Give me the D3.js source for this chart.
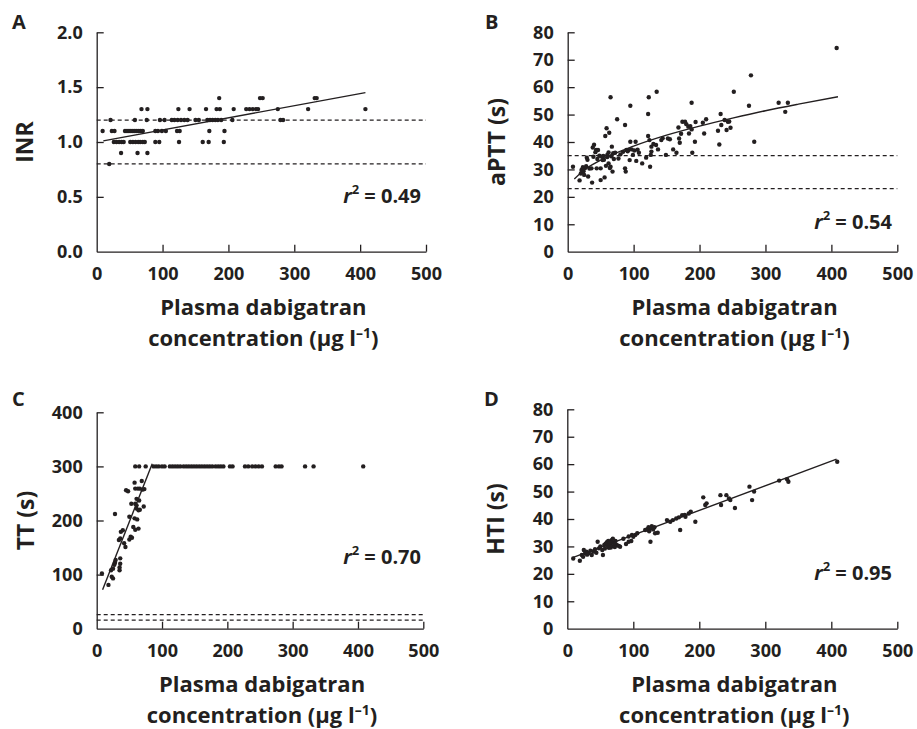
<!DOCTYPE html>
<html>
<head>
<meta charset="utf-8">
<script src="https://d3js.org/d3.v7.min.js"></script>
<style>
  body { margin: 0; background: #fff; }
  svg text { font-family: "Open Sans", Lato, sans-serif; font-weight: 700; fill: #231f20; }
</style>
</head>
<body>
<script>
// ---- data: [concentration (µg/l), value] ----
const inrPoints = [
  [186,1.4],[248,1.4],[252,1.4],[331,1.4],[334,1.4],
  [68,1.3],[77,1.3],[124,1.3],[141,1.3],[166,1.3],[182,1.3],[187,1.3],[208,1.3],[227,1.3],[232,1.3],[237,1.3],[242,1.3],[245,1.3],[275,1.3],[321,1.3],[408,1.3],
  [21,1.2],[58,1.2],[76,1.2],[96,1.2],[103,1.2],[114,1.2],[118,1.2],[123,1.2],[128,1.2],[133,1.2],[138,1.2],[150,1.2],[155,1.2],[168,1.2],[172,1.2],[176,1.2],[180,1.2],[184,1.2],[189,1.2],[206,1.2],[279,1.2],[283,1.2],
  [9,1.1],[23,1.1],[27,1.1],[43,1.1],[46,1.1],[49,1.1],[52,1.1],[55,1.1],[58,1.1],[61,1.1],[64,1.1],[67,1.1],[70,1.1],[89,1.1],[93,1.1],[99,1.1],[105,1.1],[122,1.1],[126,1.1],[171,1.1],[194,1.1],
  [26,1.0],[30,1.0],[34,1.0],[38,1.0],[41,1.0],[51,1.0],[55,1.0],[59,1.0],[63,1.0],[66,1.0],[70,1.0],[73,1.0],[89,1.0],[95,1.0],[125,1.0],[161,1.0],[170,1.0],[193,1.0],
  [37,0.9],[62,0.9],[77,0.9],
  [19,0.8]
];
const apttPoints = [
  [8,31],[18,26],[21,29.8],[23,30.8],[25,28],[26,30.4],[28,31.2],[29,34.3],[31,27.4],[36,30.4],[37,25.2],[38,38],[39,34.6],[40,39],
  [43,37.1],[44,30.4],[46,37.1],[50,30.4],[50,26.1],[53,33.4],[54,34.9],[56,27.1],[57,42.2],[59,45],[60,35.3],[62,32.2],[63,43.4],
  [65,56.3],[65,31],[67,38.3],[68,29.2],[69,35.9],[72,36.1],[75,48.3],[77,34],[87,46.2],[87,30.4],[88,29.2],[89,37.1],[92,37.1],
  [95,53.2],[95,40.1],[94,33.4],[97,37.3],[99,35.3],[103,40.1],[104,33.1],[113,32.2],[119,34.3],[122,50.2],[123,56.3],[122,42.2],
  [124,40.7],[125,31],[126,35.3],[127,38.3],[127,36.5],[135,58.3],[134,38.9],[137,37.3],[142,40.7],[149,35.3],[152,41.3],[160,37.3],
  [165,36.1],[168,45.3],[169,41.3],[170,39.7],[174,47.4],[178,47.4],[183,45.6],[184,43.1],[188,54.3],[188,44.6],[189,36.1],[193,40.1],
  [194,47.3],[205,47],[207,43.1],[210,48.3],[228,44.1],[230,39.1],[232,50.2],[233,46.2],[241,44.4],[243,47.4],[247,45.2],[252,58.3],
  [275,53.2],[278,64.3],[283,40.1],[320,54.3],[330,51],[334,54.3],[408,74.3],
  [20,28.5],[24,29.3],[30,33.5],[33,30.3],[42,36.3],[45,33.8],[48,35],[52,34.6],[55,33.5],[58,31.3],[60,34.5],[62,36.2],[64,30.5],
  [66,34.8],[70,33.8],[80,35.5],[84,36.4],[91,36.6],[101,36.9],[106,37.2],[108,36.1],[130,39.3],[144,41.4],[155,41],[172,43],
  [180,46.5],[186,45.8],[238,48],[245,47.5]
];
const ttPoints = [
  [59,300],[65,300],[75,300],[87,300],[91,300],[95,300],[100,300],[104,300],[112,300],[116,300],[120,300],[124,300],[128,300],
  [133,300],[137,300],[141,300],[145,300],[149,300],[153,300],[157,300],[161,300],[165,300],[169,300],[173,300],[177,300],
  [182,300],[186,300],[190,300],[194,300],[204,300],[208,300],[227,300],[232,300],[238,300],[243,300],[248,300],[253,300],
  [274,300],[279,300],[283,300],[319,300],[332,300],[408,300],
  [8,102],[18,81],[22,108],[23,96],[25,93],[25,111],[27,118],[28,122],[29,127],[28,212],[35,108],[35,113],[36,120],[36,130],
  [34,164],[36,167],[37,179],[40,182],[42,158],[44,151],[45,256],[48,254],[50,165],[50,207],[52,170],[53,231],[54,168],[56,188],
  [58,270],[59,183],[58,204],[59,231],[59,259],[61,228],[61,222],[61,240],[62,202],[63,259],[64,219],[64,185],[65,237],[66,220],
  [66,259],[69,273],[70,257],[72,226],[73,258]
];
const htiPoints = [
  [9,25.6],[19,24.8],[22,26.9],[25,28.7],[27,27.5],[29,28.1],[32,27.5],[37,26.9],[40,28.1],[44,27.7],[46,31.7],[48,29.3],[53,28.7],
  [54,26.9],[56,30.5],[58,31],[60,31.5],[62,32],[63,29.5],[65,30.8],[67,32.3],[68,31.5],[70,30.1],[72,29.8],[73,32],[75,30.5],
  [78,30.2],[80,29.9],[89,30.9],[93,31.7],[93,33.6],[97,32],[98,34.2],[103,34.2],[106,34.8],[121,36.2],[123,37],[126,36.6],
  [126,31.7],[128,37.4],[132,37],[133,34.8],[137,35],[151,39.6],[156,39],[160,39.6],[169,40.6],[171,36],[174,41.4],[179,40.8],
  [184,42],[187,42.7],[194,39],[206,47.9],[209,45.1],[211,45.7],[232,48.7],[233,45.1],[241,48.7],[245,47.5],[247,46.9],[254,44],
  [276,51.8],[280,46.9],[283,50],[321,54],[333,54.5],[335,53.6],[409,60.9],
  [24,26.2],[30,27],[35,28.4],[42,29],[50,30],[57,29.2],[61,30.2],[64,31.3],[66,29.6],[69,32.8],[71,31],[85,32.8],[100,33.5],
  [118,36],[124,35.5],[130,36.2],[165,40.2],[178,41.5]
];

// fitted lines as drawn in the figure
const inrFit  = [[10,1.01],[408,1.45]];
const apttFit = [[10,26.5],[25,29.8],[50,33.4],[100,38.5],[150,42.5],[200,45.8],[250,48.7],[300,51.4],[350,53.8],[410,56.5]];
const ttFit   = [[9,72],[85,305]];
const htiFit  = [[8,25.9],[408,61.8]];

// normal range (dashed) lines
const inrRefs  = [1.2, 0.8];
const apttRefs = [35, 23];
const ttRefs   = [26, 16];
const htiRefs  = [];

const xTicks = [0,100,200,300,400,500];
const inrTicks = [0,0.5,1,1.5,2];
const sec80Ticks = [0,10,20,30,40,50,60,70,80];
const ttTicks = [0,100,200,300,400];

const r2Labels = ['0.49','0.54','0.70','0.95'];

const ink = '#231f20';
const svg = d3.select('body').append('svg').attr('width', 917).attr('height', 729);

const panels = [
  { letter:'A', pts:inrPoints, fit:inrFit, refs:inrRefs, yDom:[0,2], yTicks:inrTicks, fmt:d3.format('.1f'),
    title:'INR', box:[96.7,426,32.3,251.7], letterXY:[12,29], titleX:33, r2:r2Labels[0], r2XY:[421,203] },
  { letter:'B', pts:apttPoints, fit:apttFit, refs:apttRefs, yDom:[0,80], yTicks:sec80Ticks, fmt:d3.format('d'),
    title:'aPTT (s)', box:[567.7,897.3,32.3,251.7], letterXY:[485,29], titleX:505, r2:r2Labels[1], r2XY:[892,229] },
  { letter:'C', pts:ttPoints, fit:ttFit, refs:ttRefs, yDom:[0,400], yTicks:ttTicks, fmt:d3.format('d'),
    title:'TT (s)', box:[96.7,423.3,412.3,628.7], letterXY:[12,406], titleX:34, r2:r2Labels[2], r2XY:[421,564] },
  { letter:'D', pts:htiPoints, fit:htiFit, refs:htiRefs, yDom:[0,80], yTicks:sec80Ticks, fmt:d3.format('d'),
    title:'HTI (s)', box:[567.3,897.3,409.3,628.7], letterXY:[484,406], titleX:504, r2:r2Labels[3], r2XY:[892,580] }
];

panels.forEach(p => {
  const [x0, x1, y0, y1] = p.box;
  const x = d3.scaleLinear().domain([0,500]).range([x0, x1]);
  const y = d3.scaleLinear().domain(p.yDom).range([y1, y0]);
  const g = svg.append('g');

  // axes, ticks pointing inward
  const ax = g.append('g').attr('transform', `translate(0,${y1})`)
    .call(d3.axisBottom(x).tickValues(xTicks).tickSize(-7).tickSizeOuter(0).tickPadding(16));
  const ay = g.append('g').attr('transform', `translate(${x0},0)`)
    .call(d3.axisLeft(y).tickValues(p.yTicks).tickFormat(p.fmt).tickSize(-7).tickSizeOuter(0).tickPadding(14));
  [ax, ay].forEach(a => {
    a.selectAll('path,line').attr('stroke', ink).attr('stroke-width', 1.3);
    a.selectAll('text').style('font-size', '18px').attr('fill', ink);
  });
  ay.selectAll('.tick line').filter(d => d === 0).remove();
  ax.selectAll('.tick line').filter(d => d === 0).remove();

  // dashed reference lines
  g.selectAll('line.ref').data(p.refs).join('line').attr('class','ref')
    .attr('x1', x(0)).attr('x2', x(500)).attr('y1', d => y(d)).attr('y2', d => y(d))
    .attr('stroke', ink).attr('stroke-width', 1.2).attr('stroke-dasharray', '4,3');

  // points
  g.selectAll('circle').data(p.pts).join('circle')
    .attr('cx', d => x(d[0])).attr('cy', d => y(d[1])).attr('r', 2.2).attr('fill', ink);

  // fitted line
  g.append('path').datum(p.fit)
    .attr('d', d3.line().x(d => x(d[0])).y(d => y(d[1])).curve(d3.curveMonotoneX))
    .attr('fill', 'none').attr('stroke', ink).attr('stroke-width', 1.4);

  // panel letter
  g.append('text').attr('x', p.letterXY[0]).attr('y', p.letterXY[1]).style('font-size', '20px').text(p.letter);

  // y title
  g.append('text').attr('transform', `translate(${p.titleX},${(y0 + y1) / 2}) rotate(-90)`)
    .attr('text-anchor', 'middle').style('font-size', '23px').text(p.title);

  // x title
  const cx = (x0 + x1) / 2 + 2;
  g.append('text').attr('x', cx).attr('y', y1 + 63).attr('text-anchor', 'middle')
    .style('font-size', '22px').text('Plasma dabigatran');
  const t2 = g.append('text').attr('x', cx).attr('y', y1 + 94).attr('text-anchor', 'middle').style('font-size', '22px');
  t2.append('tspan').text('concentration (μg l');
  t2.append('tspan').attr('dy', -8).style('font-size', '14px').text('–1');
  t2.append('tspan').attr('dy', 8).text(')');

  // r² label
  const r = g.append('text').attr('x', p.r2XY[0]).attr('y', p.r2XY[1]).attr('text-anchor', 'end').style('font-size', '20px');
  r.append('tspan').style('font-style', 'italic').text('r');
  r.append('tspan').attr('dy', -9).style('font-size', '13px').text('2');
  r.append('tspan').attr('dy', 9).text(' = ' + p.r2);
});
</script>
</body>
</html>
